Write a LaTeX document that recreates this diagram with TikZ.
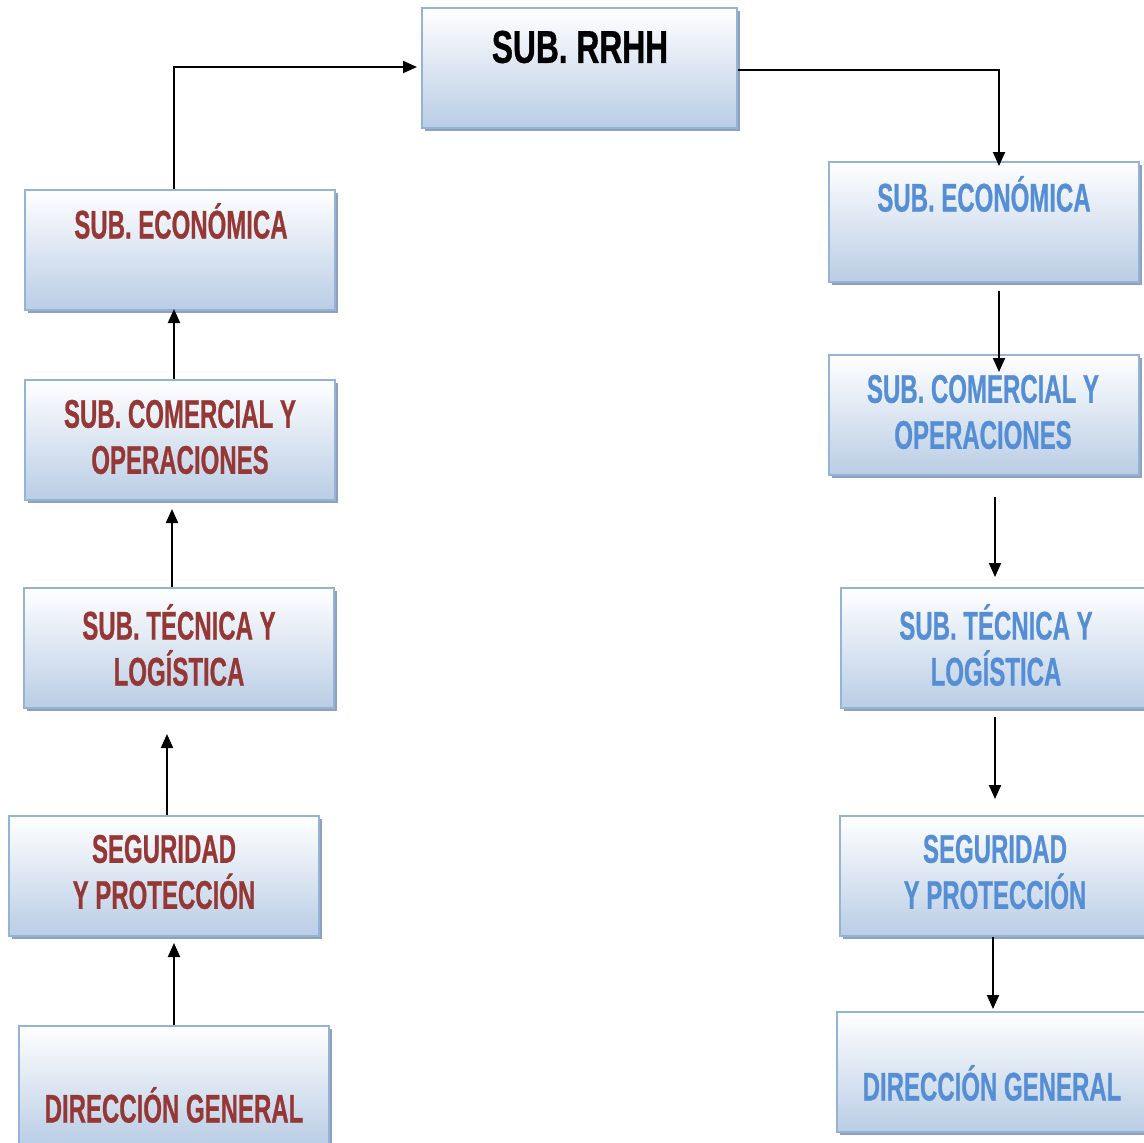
\documentclass[tikz,border=0pt]{standalone}
\usepackage{fontspec}
\newfontfamily\narrowbold[FakeStretch=0.6,FakeBold=0.6]{Liberation Sans Bold}
\newfontfamily\titlebold[FakeStretch=0.69,FakeBold=0.8]{Liberation Sans Bold}
\usetikzlibrary{arrows.meta,calc,shadows}
\definecolor{deptred}{HTML}{953735}
\definecolor{deptblue}{HTML}{558ED5}
\definecolor{boxedge}{HTML}{95B3D7}
\definecolor{boxlow}{HTML}{B9CDE5}
\definecolor{boxshade}{HTML}{8EA2BF}
\tikzset{
  unitbox/.style={rectangle, draw=boxedge, line width=2pt,
    top color=white, bottom color=boxlow, minimum width=310pt,
    minimum height=120pt, inner sep=0pt,
    drop shadow={shadow xshift=3pt, shadow yshift=-3pt, fill=boxshade, opacity=1}},
  unittext/.style={font=\narrowbold\fontsize{40}{46}\selectfont, align=center, inner sep=0pt},
  redtext/.style={unittext, text=deptred},
  bluetext/.style={unittext, text=deptblue},
  link/.style={line width=2pt, -{Triangle[length=14pt,width=12pt]}}
}
\begin{document}
\begin{tikzpicture}[x=1pt,y=-1pt]
\useasboundingbox (0,0) rectangle (1144,1143);
\fill[white] (0,0) rectangle (1144,1143);

% top unit
\node[unitbox, minimum width=315pt] (rrhh) at (579.5,68) {};
\node[unittext, font=\titlebold\fontsize{46}{50}\selectfont, text=black] (rrhhT) at (580,47) {SUB. RRHH};

% left column
\node[unitbox] (econL) at (180,250) {};
\node[unitbox] (comL)  at (180,440) {};
\node[unitbox] (tecL)  at (179,648) {};
\node[unitbox] (segL)  at (164,876) {};
\node[unitbox] (dirL)  at (174,1086) {};

\node[redtext] (econLT) at (181,221) {SUB. ECONÓMICA};
\node[redtext] (comLT)  at (180,437) {SUB. COMERCIAL Y\\OPERACIONES};
\node[redtext] (tecLT)  at (179,645) {SUB. TÉCNICA Y\\LOGÍSTICA};
\node[redtext] (segLT)  at (164,872) {SEGURIDAD\\Y PROTECCIÓN};
\node[redtext] (dirLT)  at (174,1105) {DIRECCIÓN GENERAL};

% right column
\node[unitbox] (econR) at (984,222) {};
\node[unitbox] (comR)  at (984,415) {};
\node[unitbox] (tecR)  at (996,648) {};
\node[unitbox] (segR)  at (995,876) {};
\node[unitbox] (dirR)  at (992,1072) {};

\node[bluetext] (econRT) at (984,194) {SUB. ECONÓMICA};
\node[bluetext] (comRT)  at (983,412) {SUB. COMERCIAL Y\\OPERACIONES};
\node[bluetext] (tecRT)  at (996,645) {SUB. TÉCNICA Y\\LOGÍSTICA};
\node[bluetext] (segRT)  at (995,872) {SEGURIDAD\\Y PROTECCIÓN};
\node[bluetext] (dirRT)  at (992,1083) {DIRECCIÓN GENERAL};

% upward chain on the left
\draw[link] ($(econL.north)+(-6,0)$) |- ($(rrhh.west)+(-4,-1)$);
\draw[link] ($(comL.north)+(-6,0)$) -- ($(econL.south)+(-6,-2)$);
\draw[link] ($(tecL.north)+(-7,0)$) -- ($(comL.south)+(-8,8)$);
\draw[link] ($(segL.north)+(3,0)$) -- ($(tecL.south)+(-12,25)$);
\draw[link] ($(dirL.north)+(0,0)$) -- ($(segL.south)+(10,6)$);

% downward chain on the right
\draw[link] ($(rrhh.east)+(0,2)$) -| ($(econR.north)+(15,5)$);
\draw[link] ($(econR.south)+(15,8)$) -- ($(comR.north)+(15,18)$);
\draw[link] ($(comR.south)+(11,21)$) -- ($(tecR.north)+(-1,-10)$);
\draw[link] ($(tecR.south)+(-1,8)$) -- ($(segR.north)+(0,-16)$);
\draw[link] ($(segR.south)+(-2,0)$) -- ($(dirR.north)+(1,-2)$);
\end{tikzpicture}
\end{document}
